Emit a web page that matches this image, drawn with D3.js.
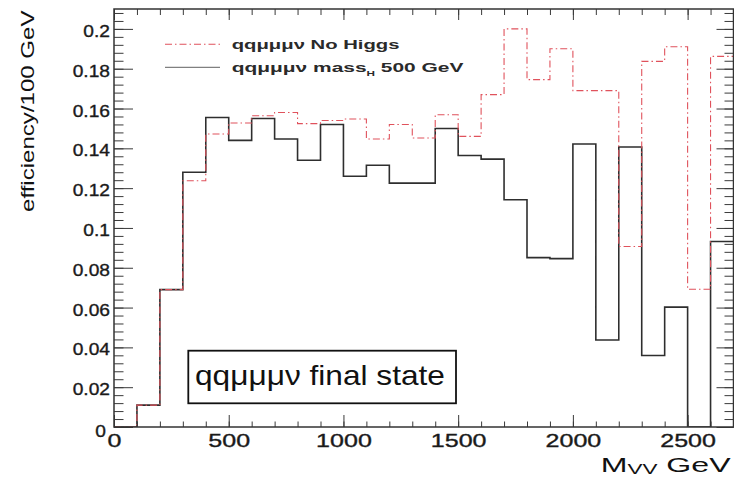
<!DOCTYPE html>
<html>
<head>
<meta charset="utf-8">
<script src="https://cdn.jsdelivr.net/npm/d3@7"></script>
<style>
  html, body { margin: 0; padding: 0; background: #fff; }
  svg { display: block; }
</style>
</head>
<body>
<svg id="chart" width="734" height="477"></svg>
<script>
// Lower edges of the 100 GeV wide M_VV bins (GeV)
const binLow = [0, 100, 200, 300, 400, 500, 600, 700, 800, 900, 1000, 1100, 1200, 1300,
                1400, 1500, 1600, 1700, 1800, 1900, 2000, 2100, 2200, 2300, 2400, 2500, 2600];
const binWidth = 100;

// Efficiency per 100 GeV, Higgs mass 500 GeV
const effHiggs500 = [0, 0.011, 0.069, 0.128, 0.1555, 0.144, 0.155, 0.1447, 0.134, 0.152,
                     0.126, 0.1315, 0.1225, 0.1225, 0.150, 0.1364, 0.1346, 0.1142, 0.0851, 0.0846,
                     0.1422, 0.0437, 0.1407, 0.0359, 0.0602, 0, 0.0932];

// Efficiency per 100 GeV, no Higgs
const effNoHiggs = [0, 0.011, 0.069, 0.1237, 0.1472, 0.1527, 0.1564, 0.158, 0.1524, 0.154,
                    0.1547, 0.1447, 0.152, 0.1452, 0.1569, 0.146, 0.167, 0.200, 0.1745, 0.190,
                    0.169, 0.169, 0.0907, 0.1837, 0.191, 0.0692, 0.1862];

const xTickValues = [0, 500, 1000, 1500, 2000, 2500];
const xTickLabels = ["0", "500", "1000", "1500", "2000", "2500"];
const yTickValues = [0, 0.02, 0.04, 0.06, 0.08, 0.1, 0.12, 0.14, 0.16, 0.18, 0.2];
const yTickLabels = ["0", "0.02", "0.04", "0.06", "0.08", "0.1", "0.12", "0.14", "0.16", "0.18", "0.2"];

const legendNoHiggs = "qqμμμν No Higgs";
const legendHiggs = ["qqμμμν mass", "H", " 500 GeV"];
const boxLabel = "qqμμμν final state";
const yTitle = "efficiency/100 GeV";
const xTitle = ["M", "VV", " GeV"];

const FONT = "'Liberation Sans', Arial, Helvetica, sans-serif";
const svg = d3.select("#chart");

const frame = { left: 114, right: 733.5, top: 9, bottom: 427 };
const x = d3.scaleLinear().domain([0, 2700]).range([frame.left, frame.right]);
const y = d3.scaleLinear().domain([0, 0.21]).range([frame.bottom, frame.top]);

svg.append("rect").attr("width", 734).attr("height", 477).attr("fill", "#fff");

svg.append("defs").append("clipPath").attr("id", "plotClip")
  .append("rect")
  .attr("x", frame.left).attr("y", frame.top)
  .attr("width", frame.right - frame.left).attr("height", frame.bottom - frame.top);

// ---- histograms as step outlines ----
const step = d3.line().x(d => x(d[0])).y(d => y(d[1])).curve(d3.curveStepAfter);
function histPoints(vals) {
  const pts = binLow.map((lo, i) => [lo, vals[i]]);
  pts.push([binLow[binLow.length - 1] + binWidth, vals[vals.length - 1]]);
  return pts;
}

const plot = svg.append("g").attr("clip-path", "url(#plotClip)");
plot.append("path")
  .attr("d", step(histPoints(effHiggs500)))
  .attr("fill", "none").attr("stroke", "#2e2e2e").attr("stroke-width", 1.6);
plot.append("path")
  .attr("d", step(histPoints(effNoHiggs)))
  .attr("fill", "none").attr("stroke", "#e0525c").attr("stroke-width", 1.1)
  .attr("stroke-dasharray", "7,3,1.5,3");

// ---- axes (ticks point inward) ----
const tickColor = "#3a3a3a";
function styleAxis(g) {
  g.select(".domain").remove();
  g.selectAll("line").attr("stroke", tickColor).attr("stroke-width", 1);
}
const yMinor = d3.range(0, 0.2101, 0.004);
const xMinor = d3.range(0, 2701, 100);

// left
svg.append("g").attr("transform", `translate(${frame.left},0)`)
  .call(d3.axisLeft(y).tickValues(yMinor).tickSize(-9.5).tickFormat(""))
  .call(styleAxis);
const gLeft = svg.append("g").attr("transform", `translate(${frame.left},0)`)
  .call(d3.axisLeft(y).tickValues(yTickValues).tickSize(-19)
    .tickFormat((d, i) => yTickLabels[i]))
  .call(styleAxis);
gLeft.selectAll("text")
  .attr("x", null).attr("dy", null)
  .attr("text-anchor", "end")
  .attr("font-family", FONT).attr("font-size", 17).attr("fill", "#1a1a1a")
  .attr("stroke", "#1a1a1a").attr("stroke-width", 0.35)
  .attr("transform", d => d === 0 ? "translate(-8,9) scale(1.13,1)" : "translate(-4,7.5) scale(1.13,1)");

// right
svg.append("g").attr("transform", `translate(${frame.right},0)`)
  .call(d3.axisRight(y).tickValues(yMinor).tickSize(-9).tickFormat(""))
  .call(styleAxis);
svg.append("g").attr("transform", `translate(${frame.right},0)`)
  .call(d3.axisRight(y).tickValues(yTickValues).tickSize(-17).tickFormat(""))
  .call(styleAxis);

// bottom
svg.append("g").attr("transform", `translate(0,${frame.bottom})`)
  .call(d3.axisBottom(x).tickValues(xMinor).tickSize(-5.5).tickFormat(""))
  .call(styleAxis);
const gBottom = svg.append("g").attr("transform", `translate(0,${frame.bottom})`)
  .call(d3.axisBottom(x).tickValues(xTickValues).tickSize(-12)
    .tickFormat((d, i) => xTickLabels[i]))
  .call(styleAxis);
gBottom.selectAll("text")
  .attr("y", null).attr("dy", null)
  .attr("text-anchor", "middle")
  .attr("font-family", FONT).attr("font-size", 19).attr("fill", "#1a1a1a")
  .attr("stroke", "#1a1a1a").attr("stroke-width", 0.35)
  .attr("transform", "translate(0,20) scale(1.32,1)");

// top
svg.append("g").attr("transform", `translate(0,${frame.top})`)
  .call(d3.axisTop(x).tickValues(xMinor).tickSize(-6).tickFormat(""))
  .call(styleAxis);
svg.append("g").attr("transform", `translate(0,${frame.top})`)
  .call(d3.axisTop(x).tickValues(xTickValues).tickSize(-11).tickFormat(""))
  .call(styleAxis);

// frame
svg.append("rect")
  .attr("x", frame.left).attr("y", frame.top)
  .attr("width", frame.right - frame.left).attr("height", frame.bottom - frame.top)
  .attr("fill", "none").attr("stroke", "#333").attr("stroke-width", 1.5);

// ---- text helper: lays out parts, then stretches horizontally to a width ----
function fitText(parent, opts) {
  const t = parent.append("text")
    .attr("font-family", FONT)
    .attr("font-weight", opts.weight || "normal")
    .attr("fill", opts.fill || "#111");
  opts.parts.forEach(p => {
    t.append("tspan").attr("font-size", p.size).attr("dy", p.dy || 0).text(p.text);
  });
  const bb = t.node().getBBox();
  const sx = opts.width / bb.width;
  t.attr("transform",
    `translate(${opts.x},${opts.y}) rotate(${opts.rotate || 0}) scale(${sx},1) translate(${-bb.x},0)`);
  return t;
}

// ---- legend ----
const legend = svg.append("g");
legend.append("line")
  .attr("x1", 165).attr("x2", 220).attr("y1", 44.3).attr("y2", 44.3)
  .attr("stroke", "#e0525c").attr("stroke-width", 1.1).attr("stroke-dasharray", "7,3,1.5,3");
legend.append("line")
  .attr("x1", 165).attr("x2", 220).attr("y1", 67.3).attr("y2", 67.3)
  .attr("stroke", "#808080").attr("stroke-width", 1.3);
fitText(legend, { x: 231.7, y: 48.5, width: 168, weight: "bold", fill: "#2a2a2a",
  parts: [{ text: legendNoHiggs, size: 12.5 }] });
fitText(legend, { x: 231.7, y: 71.7, width: 233, weight: "bold", fill: "#2a2a2a",
  parts: [{ text: legendHiggs[0], size: 12.5 },
          { text: legendHiggs[1], size: 7, dy: 4.5 },
          { text: legendHiggs[2], size: 12.5, dy: -4.5 }] });

// ---- label box ----
svg.append("rect")
  .attr("x", 188.3).attr("y", 350.7).attr("width", 267.7).attr("height", 52.6)
  .attr("fill", "#fff").attr("stroke", "#111").attr("stroke-width", 1.8);
fitText(svg, { x: 195, y: 385, width: 250, fill: "#111",
  parts: [{ text: boxLabel, size: 27 }] });

// ---- axis titles ----
fitText(svg, { x: 600.7, y: 471.7, width: 131, fill: "#111",
  parts: [{ text: xTitle[0], size: 20 },
          { text: xTitle[1], size: 14, dy: 2 },
          { text: xTitle[2], size: 20, dy: -2 }] });
fitText(svg, { x: 34, y: 212, width: 202, rotate: -90, fill: "#111",
  parts: [{ text: yTitle, size: 19 }] });
</script>
</body>
</html>
